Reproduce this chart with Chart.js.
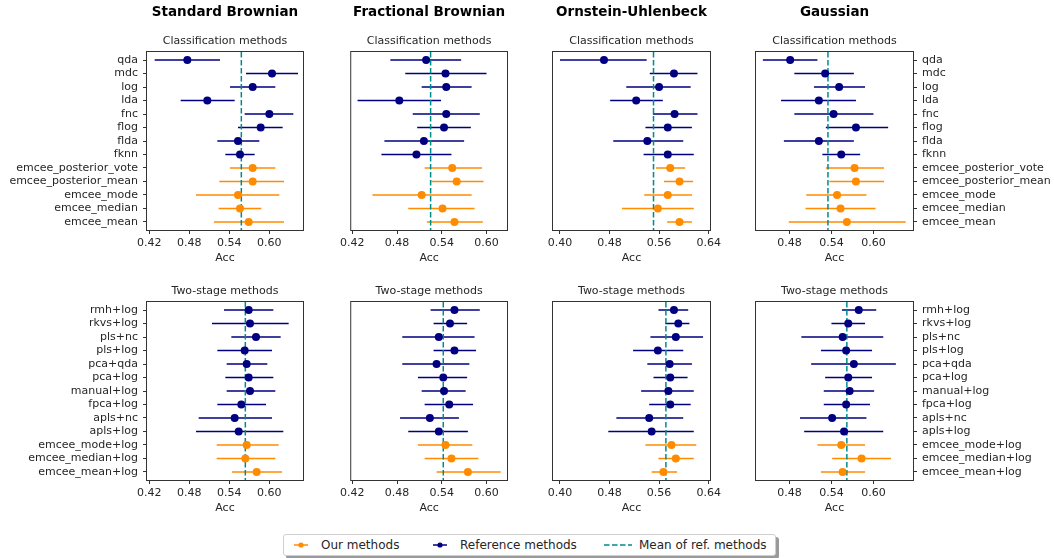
<!DOCTYPE html>
<html>
<head>
<meta charset="utf-8">
<script src="https://cdn.jsdelivr.net/npm/chart.js@4.4.0/dist/chart.umd.min.js"></script>
<style>
  body { margin: 0; width: 1054px; height: 558px; background: #fff; position: relative; overflow: hidden;
         font-family: "DejaVu Sans", sans-serif; }
  canvas { position: absolute; }
  #legend { position: absolute; left: 283px; top: 534px; width: 491px; height: 20px; background: #fff;
            border: 1px solid #cfcfcf; border-radius: 3px; box-shadow: 3px 3px 0 #9a9a9a; }
  #legend .item { position: absolute; top: 0; height: 20px; line-height: 20px; font-size: 12px; color: #262626; white-space: nowrap; }
  #legend svg { position: absolute; top: 5px; }
</style>
</head>
<body>
<canvas id="sbClass" width="311" height="265" style="left:0px;top:0px"></canvas>
<canvas id="fbClass" width="182" height="265" style="left:337px;top:0px"></canvas>
<canvas id="ouClass" width="181" height="265" style="left:543px;top:0px"></canvas>
<canvas id="gaClass" width="308" height="265" style="left:746px;top:0px"></canvas>
<canvas id="sbTwo" width="311" height="231" style="left:0px;top:284px"></canvas>
<canvas id="fbTwo" width="182" height="231" style="left:337px;top:284px"></canvas>
<canvas id="ouTwo" width="181" height="231" style="left:543px;top:284px"></canvas>
<canvas id="gaTwo" width="308" height="231" style="left:746px;top:284px"></canvas>

<div id="legend">
  <svg width="16" height="10" style="left:9px"><line x1="1" y1="5" x2="15" y2="5" stroke="#ff8c00" stroke-width="1.5"/><circle cx="8" cy="5" r="2.6" fill="#ff8c00"/></svg>
  <span class="item" style="left:37px">Our methods</span>
  <svg width="16" height="10" style="left:148px"><line x1="1" y1="5" x2="15" y2="5" stroke="#000080" stroke-width="1.5"/><circle cx="8" cy="5" r="2.6" fill="#000080"/></svg>
  <span class="item" style="left:176px">Reference methods</span>
  <svg width="28" height="10" style="left:320px"><line x1="0" y1="5" x2="28" y2="5" stroke="#008b8b" stroke-width="1.5" stroke-dasharray="5.5 2.5"/></svg>
  <span class="item" style="left:355px">Mean of ref. methods</span>
</div>

<script>
// method names (rows, top to bottom)
const classLabels = ['qda', 'mdc', 'log', 'lda', 'fnc', 'flog', 'flda', 'fknn',
  'emcee_posterior_vote', 'emcee_posterior_mean', 'emcee_mode', 'emcee_median', 'emcee_mean'];
const twoStageLabels = ['rmh+log', 'rkvs+log', 'pls+nc', 'pls+log', 'pca+qda', 'pca+log', 'manual+log',
  'fpca+log', 'apls+nc', 'apls+log', 'emcee_mode+log', 'emcee_median+log', 'emcee_mean+log'];
const classRefCount = 8;
const twoStageRefCount = 10;

const columnTitles = ['Standard Brownian', 'Fractional Brownian', 'Ornstein-Uhlenbeck', 'Gaussian'];
const xTicksSB = [0.42, 0.48, 0.54, 0.60];
const xTicksFB = [0.42, 0.48, 0.54, 0.60];
const xTicksOU = [0.40, 0.48, 0.56, 0.64];
const xTicksGA = [0.48, 0.54, 0.60];

// Standard Brownian - classification
const sbClassAcc  = [0.477, 0.604, 0.575, 0.507, 0.600, 0.587, 0.553, 0.556, 0.575, 0.575, 0.553, 0.556, 0.569];
const sbClassLow  = [0.428, 0.565, 0.541, 0.467, 0.563, 0.553, 0.522, 0.534, 0.541, 0.525, 0.490, 0.524, 0.517];
const sbClassHigh = [0.526, 0.643, 0.609, 0.548, 0.636, 0.620, 0.585, 0.578, 0.609, 0.622, 0.615, 0.588, 0.622];
// Fractional Brownian - classification
const fbClassAcc  = [0.519, 0.545, 0.546, 0.483, 0.546, 0.543, 0.516, 0.506, 0.554, 0.560, 0.513, 0.541, 0.557];
const fbClassLow  = [0.471, 0.491, 0.513, 0.427, 0.501, 0.507, 0.463, 0.459, 0.517, 0.526, 0.447, 0.495, 0.520];
const fbClassHigh = [0.566, 0.600, 0.580, 0.539, 0.591, 0.579, 0.570, 0.553, 0.594, 0.596, 0.580, 0.584, 0.595];
// Ornstein-Uhlenbeck - classification
const ouClassAcc  = [0.471, 0.584, 0.560, 0.523, 0.585, 0.574, 0.541, 0.574, 0.578, 0.593, 0.574, 0.558, 0.593];
const ouClassLow  = [0.400, 0.545, 0.507, 0.481, 0.550, 0.538, 0.486, 0.535, 0.555, 0.568, 0.536, 0.500, 0.573];
const ouClassHigh = [0.540, 0.622, 0.611, 0.566, 0.622, 0.613, 0.599, 0.616, 0.602, 0.615, 0.613, 0.616, 0.613];
// Gaussian - classification
const gaClassAcc  = [0.481, 0.531, 0.551, 0.522, 0.543, 0.575, 0.522, 0.554, 0.573, 0.575, 0.548, 0.553, 0.562];
const gaClassLow  = [0.442, 0.487, 0.515, 0.468, 0.487, 0.532, 0.472, 0.527, 0.532, 0.537, 0.504, 0.503, 0.479];
const gaClassHigh = [0.520, 0.572, 0.588, 0.575, 0.600, 0.621, 0.572, 0.581, 0.615, 0.615, 0.590, 0.603, 0.646];

// Standard Brownian - two-stage
const sbTwoAcc  = [0.569, 0.571, 0.580, 0.563, 0.566, 0.569, 0.571, 0.558, 0.548, 0.554, 0.566, 0.564, 0.581];
const sbTwoLow  = [0.532, 0.514, 0.543, 0.522, 0.536, 0.534, 0.536, 0.522, 0.494, 0.490, 0.521, 0.521, 0.544];
const sbTwoHigh = [0.606, 0.629, 0.617, 0.604, 0.597, 0.606, 0.609, 0.595, 0.604, 0.621, 0.614, 0.609, 0.619];
// Fractional Brownian - two-stage
const fbTwoAcc  = [0.557, 0.551, 0.536, 0.557, 0.533, 0.542, 0.543, 0.550, 0.524, 0.536, 0.545, 0.553, 0.575];
const fbTwoLow  = [0.525, 0.529, 0.487, 0.529, 0.487, 0.508, 0.513, 0.517, 0.484, 0.495, 0.508, 0.517, 0.533];
const fbTwoHigh = [0.591, 0.574, 0.584, 0.586, 0.577, 0.574, 0.572, 0.582, 0.563, 0.575, 0.581, 0.589, 0.619];
// Ornstein-Uhlenbeck - two-stage
const ouTwoAcc  = [0.584, 0.591, 0.587, 0.558, 0.577, 0.578, 0.575, 0.578, 0.544, 0.548, 0.580, 0.587, 0.567];
const ouTwoLow  = [0.559, 0.570, 0.546, 0.518, 0.541, 0.551, 0.531, 0.544, 0.491, 0.478, 0.538, 0.559, 0.548];
const ouTwoHigh = [0.607, 0.609, 0.631, 0.599, 0.613, 0.606, 0.616, 0.611, 0.599, 0.616, 0.620, 0.616, 0.589];
// Gaussian - two-stage
const gaTwoAcc  = [0.579, 0.564, 0.556, 0.561, 0.572, 0.564, 0.566, 0.561, 0.541, 0.558, 0.554, 0.583, 0.556];
const gaTwoLow  = [0.555, 0.540, 0.497, 0.525, 0.511, 0.531, 0.529, 0.529, 0.495, 0.501, 0.520, 0.541, 0.525];
const gaTwoHigh = [0.604, 0.588, 0.614, 0.598, 0.632, 0.598, 0.601, 0.595, 0.590, 0.614, 0.588, 0.625, 0.588];

// mean of reference methods (dashed line), per panel
const classRefMeans = [0.558, 0.525, 0.551, 0.535];
const twoStageRefMeans = [0.564, 0.542, 0.571, 0.562];

const NAVY = '#000080';
const ORANGE = '#ff8c00';
const TEAL = '#008b8b';
const TEXT = '#262626';
const FONT = "'DejaVu Sans', sans-serif";
Chart.defaults.font.family = FONT;

const framePlugin = {
  id: 'frame',
  afterDatasetsDraw(chart) {
    const a = chart.chartArea;
    const ctx = chart.ctx;
    ctx.save();
    ctx.strokeStyle = '#333';
    ctx.lineWidth = 1;
    ctx.strokeRect(a.left - 0.5, a.top - 0.5, a.right - a.left + 1, a.bottom - a.top + 1);
    ctx.restore();
  }
};

function errorSegments(low, high, from, to) {
  const pts = [];
  for (let i = from; i < to; i++) {
    pts.push({x: low[i], y: i}, {x: high[i], y: i}, {x: null, y: null});
  }
  return pts;
}

function markers(acc, from, to) {
  const pts = [];
  for (let i = from; i < to; i++) pts.push({x: acc[i], y: i});
  return pts;
}

function makePanel(id, p) {
  const n = p.labels.length;
  const yMin = -0.6, yMax = n - 1 + 0.6;
  new Chart(document.getElementById(id), {
    type: 'scatter',
    data: {
      datasets: [
        {label: 'Mean of ref. methods', data: [{x: p.refMean, y: yMin}, {x: p.refMean, y: yMax}],
          showLine: true, borderColor: TEAL, borderWidth: 1.5, borderDash: [5.5, 2.5], pointRadius: 0, order: 2},
        {label: 'ref bars', data: errorSegments(p.low, p.high, 0, p.nRef), showLine: true, spanGaps: false,
          borderColor: NAVY, borderWidth: 1.5, pointRadius: 0, order: 3},
        {label: 'our bars', data: errorSegments(p.low, p.high, p.nRef, n), showLine: true, spanGaps: false,
          borderColor: ORANGE, borderWidth: 1.5, pointRadius: 0, order: 3},
        {label: 'Reference methods', data: markers(p.acc, 0, p.nRef), pointRadius: 4,
          backgroundColor: NAVY, borderWidth: 0, order: 1},
        {label: 'Our methods', data: markers(p.acc, p.nRef, n), pointRadius: 4,
          backgroundColor: ORANGE, borderWidth: 0, order: 1}
      ]
    },
    options: {
      responsive: false,
      animation: false,
      events: [],
      layout: {autoPadding: false, padding: {left: p.padLeft, right: p.padRight, top: 0, bottom: 0}},
      plugins: {
        legend: {display: false},
        tooltip: {enabled: false},
        title: {display: !!p.colTitle, text: p.colTitle || '', fullSize: false, color: '#000',
          font: {size: 13.5, weight: 'bold', lineHeight: 1}, padding: {top: 6, bottom: 0}},
        subtitle: {display: true, text: p.subTitle, fullSize: false, color: TEXT,
          font: {size: 11, lineHeight: 1}, padding: {top: p.colTitle ? 16.5 : 2, bottom: 5}}
      },
      scales: {
        x: {
          type: 'linear', min: p.xMin, max: p.xMax,
          afterBuildTicks: s => { s.ticks = p.xTicks.map(v => ({value: v})); },
          afterFit: s => { s.height = 35; },
          ticks: {autoSkip: false, maxRotation: 0, padding: 3, color: TEXT, font: {size: 11},
            callback: v => Number(v).toFixed(2)},
          grid: {drawOnChartArea: false, drawTicks: true, tickLength: 4, color: '#333'},
          border: {display: false},
          title: {display: true, text: 'Acc', color: TEXT, font: {size: 11}, padding: 0}
        },
        y: {
          type: 'linear', reverse: true, min: yMin, max: yMax,
          display: !!p.yPos, position: p.yPos || 'left',
          afterBuildTicks: s => { s.ticks = p.labels.map((_, i) => ({value: i})); },
          afterFit: s => { if (p.yPos) s.width = p.yWidth; },
          ticks: {autoSkip: false, padding: 5, color: TEXT, font: {size: 11},
            callback: v => p.labels[v]},
          grid: {drawOnChartArea: false, drawTicks: true, tickLength: 4, color: '#333'},
          border: {display: false}
        }
      }
    },
    plugins: [framePlugin]
  });
}

const columns = [
  {key: 'sb', xMin: 0.4165, xMax: 0.6505, xTicks: xTicksSB, yPos: 'left', yWidth: 147, padLeft: 0, padRight: 8},
  {key: 'fb', xMin: 0.4185, xMax: 0.6275, xTicks: xTicksFB, yPos: null, yWidth: 0, padLeft: 14, padRight: 12},
  {key: 'ou', xMin: 0.3887, xMax: 0.6422, xTicks: xTicksOU, yPos: null, yWidth: 0, padLeft: 10, padRight: 14},
  {key: 'ga', xMin: 0.4322, xMax: 0.6565, xTicks: xTicksGA, yPos: 'right', yWidth: 141, padLeft: 10, padRight: 0}
];
const classData = [
  [sbClassAcc, sbClassLow, sbClassHigh],
  [fbClassAcc, fbClassLow, fbClassHigh],
  [ouClassAcc, ouClassLow, ouClassHigh],
  [gaClassAcc, gaClassLow, gaClassHigh]
];
const twoData = [
  [sbTwoAcc, sbTwoLow, sbTwoHigh],
  [fbTwoAcc, fbTwoLow, fbTwoHigh],
  [ouTwoAcc, ouTwoLow, ouTwoHigh],
  [gaTwoAcc, gaTwoLow, gaTwoHigh]
];

columns.forEach((c, i) => {
  makePanel(c.key + 'Class', Object.assign({}, c, {
    labels: classLabels, nRef: classRefCount,
    acc: classData[i][0], low: classData[i][1], high: classData[i][2],
    refMean: classRefMeans[i], colTitle: columnTitles[i], subTitle: 'Classification methods'
  }));
  makePanel(c.key + 'Two', Object.assign({}, c, {
    labels: twoStageLabels, nRef: twoStageRefCount,
    acc: twoData[i][0], low: twoData[i][1], high: twoData[i][2],
    refMean: twoStageRefMeans[i], colTitle: null, subTitle: 'Two-stage methods'
  }));
});
</script>
</body>
</html>
